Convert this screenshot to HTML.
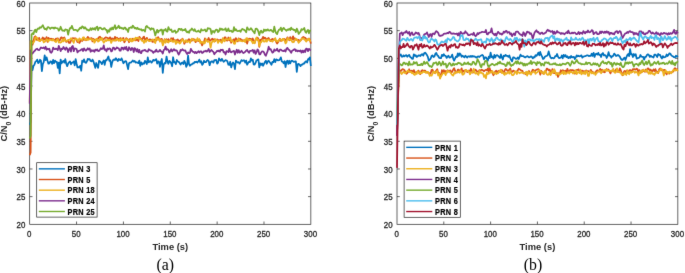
<!DOCTYPE html>
<html><head><meta charset="utf-8"><style>
html,body{margin:0;padding:0;background:#fff;}
body{width:685px;height:273px;overflow:hidden;}
svg{display:block;}
#wrap{width:685px;height:273px;}
.tk{font-family:"Liberation Sans",sans-serif;font-size:8.6px;fill:#262626;stroke:#262626;stroke-width:0.3px;}
.lb{font-family:"Liberation Sans",sans-serif;font-size:9.8px;font-weight:bold;fill:#262626;}
.lg{font-family:"Liberation Sans",sans-serif;font-size:8.2px;font-weight:bold;fill:#000;stroke:#000;stroke-width:0.2px;letter-spacing:0.32px;}
.cap{font-family:"Liberation Serif",serif;font-size:16.3px;fill:#000;}
</style></head><body><div id="wrap">
<svg width="685" height="273" viewBox="0 0 685 273">
<defs><filter id="bl" x="0" y="0" width="685" height="273" filterUnits="userSpaceOnUse" color-interpolation-filters="sRGB"><feConvolveMatrix order="3" kernelMatrix="0.00524 0.06192 0.00524 0.06192 0.73137 0.06192 0.00524 0.06192 0.00524" edgeMode="duplicate" preserveAlpha="true"/></filter></defs>
<g filter="url(#bl)">
<rect width="685" height="273" fill="#fff"/>
<rect x="29.7" y="3.0" width="281.15000000000003" height="221.3" fill="none" stroke="#262626" stroke-width="0.7"/>
<text transform="translate(29.30,237.2) scale(0.92,1)" text-anchor="middle" class="tk">0</text>
<line x1="76.56" y1="224.3" x2="76.56" y2="221.5" stroke="#262626" stroke-width="0.7"/>
<line x1="76.56" y1="3.0" x2="76.56" y2="5.8" stroke="#262626" stroke-width="0.7"/>
<text transform="translate(76.16,237.2) scale(0.92,1)" text-anchor="middle" class="tk">50</text>
<line x1="123.42" y1="224.3" x2="123.42" y2="221.5" stroke="#262626" stroke-width="0.7"/>
<line x1="123.42" y1="3.0" x2="123.42" y2="5.8" stroke="#262626" stroke-width="0.7"/>
<text transform="translate(123.02,237.2) scale(0.92,1)" text-anchor="middle" class="tk">100</text>
<line x1="170.28" y1="224.3" x2="170.28" y2="221.5" stroke="#262626" stroke-width="0.7"/>
<line x1="170.28" y1="3.0" x2="170.28" y2="5.8" stroke="#262626" stroke-width="0.7"/>
<text transform="translate(169.88,237.2) scale(0.92,1)" text-anchor="middle" class="tk">150</text>
<line x1="217.13" y1="224.3" x2="217.13" y2="221.5" stroke="#262626" stroke-width="0.7"/>
<line x1="217.13" y1="3.0" x2="217.13" y2="5.8" stroke="#262626" stroke-width="0.7"/>
<text transform="translate(216.73,237.2) scale(0.92,1)" text-anchor="middle" class="tk">200</text>
<line x1="263.99" y1="224.3" x2="263.99" y2="221.5" stroke="#262626" stroke-width="0.7"/>
<line x1="263.99" y1="3.0" x2="263.99" y2="5.8" stroke="#262626" stroke-width="0.7"/>
<text transform="translate(263.59,237.2) scale(0.92,1)" text-anchor="middle" class="tk">250</text>
<text transform="translate(310.45,237.2) scale(0.92,1)" text-anchor="middle" class="tk">300</text>
<text transform="translate(25.30,227.90) scale(0.92,1)" text-anchor="end" class="tk">20</text>
<line x1="29.7" y1="196.64" x2="32.5" y2="196.64" stroke="#262626" stroke-width="0.7"/>
<line x1="310.85" y1="196.64" x2="308.05" y2="196.64" stroke="#262626" stroke-width="0.7"/>
<text transform="translate(25.30,200.24) scale(0.92,1)" text-anchor="end" class="tk">25</text>
<line x1="29.7" y1="168.97" x2="32.5" y2="168.97" stroke="#262626" stroke-width="0.7"/>
<line x1="310.85" y1="168.97" x2="308.05" y2="168.97" stroke="#262626" stroke-width="0.7"/>
<text transform="translate(25.30,172.57) scale(0.92,1)" text-anchor="end" class="tk">30</text>
<line x1="29.7" y1="141.31" x2="32.5" y2="141.31" stroke="#262626" stroke-width="0.7"/>
<line x1="310.85" y1="141.31" x2="308.05" y2="141.31" stroke="#262626" stroke-width="0.7"/>
<text transform="translate(25.30,144.91) scale(0.92,1)" text-anchor="end" class="tk">35</text>
<line x1="29.7" y1="113.65" x2="32.5" y2="113.65" stroke="#262626" stroke-width="0.7"/>
<line x1="310.85" y1="113.65" x2="308.05" y2="113.65" stroke="#262626" stroke-width="0.7"/>
<text transform="translate(25.30,117.25) scale(0.92,1)" text-anchor="end" class="tk">40</text>
<line x1="29.7" y1="85.99" x2="32.5" y2="85.99" stroke="#262626" stroke-width="0.7"/>
<line x1="310.85" y1="85.99" x2="308.05" y2="85.99" stroke="#262626" stroke-width="0.7"/>
<text transform="translate(25.30,89.59) scale(0.92,1)" text-anchor="end" class="tk">45</text>
<line x1="29.7" y1="58.33" x2="32.5" y2="58.33" stroke="#262626" stroke-width="0.7"/>
<line x1="310.85" y1="58.33" x2="308.05" y2="58.33" stroke="#262626" stroke-width="0.7"/>
<text transform="translate(25.30,61.93) scale(0.92,1)" text-anchor="end" class="tk">50</text>
<line x1="29.7" y1="30.66" x2="32.5" y2="30.66" stroke="#262626" stroke-width="0.7"/>
<line x1="310.85" y1="30.66" x2="308.05" y2="30.66" stroke="#262626" stroke-width="0.7"/>
<text transform="translate(25.30,34.26) scale(0.92,1)" text-anchor="end" class="tk">55</text>
<text transform="translate(25.30,6.60) scale(0.92,1)" text-anchor="end" class="tk">60</text>
<polyline points="29.70,124.72 30.64,121.95 31.57,65.47 32.51,70.11 33.45,65.94 34.39,64.81 35.32,61.96 36.26,61.13 37.20,59.58 38.13,63.12 39.07,62.24 40.01,59.76 40.95,60.72 41.88,71.12 42.82,64.15 43.76,61.96 44.69,55.42 45.63,60.05 46.57,57.32 47.51,60.69 48.44,63.69 49.38,63.36 50.32,61.29 51.25,61.50 52.19,63.83 53.13,59.93 54.07,63.17 55.00,60.66 55.94,61.76 56.88,61.83 57.82,67.98 58.75,62.59 59.69,73.40 60.63,59.52 61.56,63.29 62.50,61.70 63.44,60.91 64.38,62.67 65.31,59.07 66.25,63.73 67.19,66.08 68.12,63.59 69.06,62.31 70.00,61.32 70.94,64.30 71.87,62.57 72.81,62.53 73.75,61.37 74.68,65.32 75.62,59.02 76.56,63.52 77.50,67.48 78.43,67.21 79.37,67.50 80.31,65.74 81.24,70.74 82.18,60.67 83.12,61.94 84.06,59.40 84.99,62.21 85.93,62.92 86.87,61.50 87.80,58.92 88.74,59.55 89.68,59.06 90.62,61.02 91.55,61.37 92.49,59.60 93.43,61.50 94.36,64.57 95.30,67.81 96.24,62.99 97.18,65.71 98.11,67.78 99.05,60.80 99.99,61.42 100.92,62.39 101.86,64.14 102.80,62.01 103.74,60.42 104.67,64.86 105.61,60.10 106.55,60.33 107.48,58.38 108.42,56.51 109.36,60.87 110.30,60.25 111.23,66.98 112.17,62.34 113.11,60.03 114.05,59.38 114.98,60.03 115.92,58.29 116.86,59.72 117.79,61.09 118.73,58.93 119.67,59.80 120.61,60.08 121.54,58.31 122.48,60.64 123.42,63.28 124.35,61.96 125.29,61.18 126.23,61.36 127.17,65.18 128.10,69.10 129.04,63.13 129.98,62.56 130.91,62.62 131.85,61.72 132.79,60.43 133.73,61.59 134.66,60.99 135.60,62.70 136.54,62.25 137.47,62.55 138.41,63.18 139.35,60.67 140.29,65.88 141.22,62.40 142.16,64.47 143.10,63.19 144.03,63.78 144.97,60.82 145.91,62.32 146.85,64.00 147.78,57.43 148.72,62.33 149.66,61.39 150.59,61.11 151.53,62.68 152.47,61.47 153.41,59.80 154.34,60.57 155.28,59.98 156.22,59.09 157.15,63.54 158.09,61.29 159.03,61.85 159.97,66.74 160.90,61.69 161.84,59.00 162.78,72.94 163.71,64.51 164.65,62.95 165.59,63.40 166.53,56.53 167.46,61.64 168.40,63.80 169.34,60.82 170.28,61.70 171.21,63.29 172.15,66.27 173.09,57.25 174.02,62.45 174.96,62.18 175.90,64.14 176.84,60.01 177.77,61.43 178.71,61.89 179.65,63.04 180.58,64.58 181.52,63.10 182.46,62.47 183.40,63.97 184.33,60.85 185.27,62.86 186.21,66.83 187.14,64.87 188.08,55.58 189.02,64.11 189.96,65.81 190.89,64.67 191.83,64.41 192.77,63.27 193.70,63.50 194.64,61.88 195.58,62.28 196.52,61.63 197.45,62.53 198.39,61.23 199.33,59.60 200.26,62.53 201.20,61.28 202.14,64.82 203.08,63.69 204.01,60.76 204.95,62.24 205.89,62.14 206.82,60.75 207.76,60.01 208.70,61.04 209.64,65.19 210.57,62.25 211.51,61.46 212.45,61.28 213.38,62.68 214.32,60.14 215.26,60.10 216.20,59.95 217.13,63.66 218.07,62.58 219.01,58.37 219.94,59.86 220.88,60.87 221.82,58.82 222.76,60.41 223.69,61.76 224.63,60.94 225.57,60.14 226.51,60.47 227.44,61.47 228.38,64.74 229.32,64.88 230.25,61.77 231.19,67.40 232.13,64.15 233.07,62.41 234.00,64.05 234.94,69.04 235.88,60.56 236.81,61.59 237.75,62.53 238.69,62.13 239.63,63.67 240.56,61.92 241.50,60.05 242.44,60.96 243.37,60.44 244.31,60.34 245.25,62.57 246.19,60.56 247.12,64.69 248.06,63.12 249.00,61.70 249.93,62.15 250.87,58.43 251.81,60.52 252.75,59.65 253.68,64.48 254.62,64.62 255.56,62.93 256.49,60.31 257.43,59.94 258.37,59.37 259.31,67.29 260.24,63.30 261.18,64.94 262.12,63.43 263.05,65.80 263.99,63.90 264.93,62.01 265.87,60.62 266.80,63.77 267.74,61.49 268.68,60.70 269.61,62.07 270.55,63.33 271.49,64.80 272.43,61.78 273.36,62.22 274.30,59.19 275.24,62.09 276.17,59.43 277.11,59.79 278.05,60.43 278.99,60.23 279.92,59.45 280.86,57.38 281.80,61.52 282.74,61.77 283.67,63.25 284.61,61.18 285.55,67.00 286.48,61.58 287.42,60.75 288.36,63.89 289.30,60.72 290.23,63.35 291.17,61.04 292.11,60.63 293.04,61.33 293.98,61.97 294.92,61.37 295.86,61.36 296.79,71.80 297.73,64.29 298.67,63.83 299.60,64.82 300.54,66.18 301.48,64.54 302.42,64.64 303.35,63.45 304.29,63.65 305.23,61.79 306.16,61.26 307.10,62.45 308.04,59.15 308.98,59.29 309.91,57.29 310.85,65.97" fill="none" stroke="#0072BD" stroke-width="1.75" stroke-linejoin="round"/>
<polyline points="29.70,155.14 30.64,152.38 31.57,40.62 32.51,44.66 33.45,41.44 34.39,37.17 35.32,36.29 36.26,39.66 37.20,39.93 38.13,39.53 39.07,37.80 40.01,40.60 40.95,39.74 41.88,39.20 42.82,37.45 43.76,39.36 44.69,38.39 45.63,40.61 46.57,37.06 47.51,41.88 48.44,37.89 49.38,38.94 50.32,38.92 51.25,38.69 52.19,39.07 53.13,39.18 54.07,39.49 55.00,40.62 55.94,38.61 56.88,38.92 57.82,38.30 58.75,40.74 59.69,40.69 60.63,38.00 61.56,37.31 62.50,38.78 63.44,37.98 64.38,37.53 65.31,40.00 66.25,41.87 67.19,41.54 68.12,40.58 69.06,42.85 70.00,42.91 70.94,40.78 71.87,39.35 72.81,38.16 73.75,38.33 74.68,38.32 75.62,38.48 76.56,40.19 77.50,42.07 78.43,40.31 79.37,42.97 80.31,41.28 81.24,40.00 82.18,40.95 83.12,37.93 84.06,39.74 84.99,38.97 85.93,40.37 86.87,38.48 87.80,36.81 88.74,38.89 89.68,38.32 90.62,38.70 91.55,38.05 92.49,41.44 93.43,38.80 94.36,40.02 95.30,39.78 96.24,40.23 97.18,38.58 98.11,38.85 99.05,37.33 99.99,36.66 100.92,38.30 101.86,38.45 102.80,39.51 103.74,38.98 104.67,38.21 105.61,37.33 106.55,37.53 107.48,38.02 108.42,39.51 109.36,37.85 110.30,37.39 111.23,40.84 112.17,38.36 113.11,39.03 114.05,39.29 114.98,36.81 115.92,40.60 116.86,37.64 117.79,38.46 118.73,39.24 119.67,38.63 120.61,38.15 121.54,39.99 122.48,38.44 123.42,37.96 124.35,42.30 125.29,40.87 126.23,38.08 127.17,38.83 128.10,39.65 129.04,42.28 129.98,38.79 130.91,40.53 131.85,40.78 132.79,38.70 133.73,40.23 134.66,39.82 135.60,40.46 136.54,39.80 137.47,39.55 138.41,41.13 139.35,36.81 140.29,38.25 141.22,38.93 142.16,39.79 143.10,37.50 144.03,36.66 144.97,40.47 145.91,39.24 146.85,37.82 147.78,39.97 148.72,40.48 149.66,39.35 150.59,39.54 151.53,39.90 152.47,41.95 153.41,41.72 154.34,39.58 155.28,39.87 156.22,40.55 157.15,39.14 158.09,37.12 159.03,38.70 159.97,39.11 160.90,39.25 161.84,38.87 162.78,43.86 163.71,42.03 164.65,39.25 165.59,40.51 166.53,39.19 167.46,41.88 168.40,39.18 169.34,40.92 170.28,41.06 171.21,38.25 172.15,40.18 173.09,38.14 174.02,41.35 174.96,40.15 175.90,41.32 176.84,40.01 177.77,39.46 178.71,41.17 179.65,41.18 180.58,40.12 181.52,39.81 182.46,38.70 183.40,40.41 184.33,43.76 185.27,41.88 186.21,41.45 187.14,41.28 188.08,40.17 189.02,39.06 189.96,40.79 190.89,40.14 191.83,40.82 192.77,39.33 193.70,39.22 194.64,39.65 195.58,42.15 196.52,41.18 197.45,39.86 198.39,40.96 199.33,39.33 200.26,41.28 201.20,43.00 202.14,45.39 203.08,43.22 204.01,41.65 204.95,38.44 205.89,40.09 206.82,39.96 207.76,39.82 208.70,37.99 209.64,40.94 210.57,40.55 211.51,39.22 212.45,38.73 213.38,40.50 214.32,39.15 215.26,41.01 216.20,39.97 217.13,39.38 218.07,40.60 219.01,40.11 219.94,40.46 220.88,39.65 221.82,41.98 222.76,40.56 223.69,39.69 224.63,37.40 225.57,37.45 226.51,40.42 227.44,40.55 228.38,37.52 229.32,40.32 230.25,39.48 231.19,42.73 232.13,40.46 233.07,40.40 234.00,39.19 234.94,42.68 235.88,38.09 236.81,39.99 237.75,41.44 238.69,38.32 239.63,40.00 240.56,38.89 241.50,40.21 242.44,40.16 243.37,40.68 244.31,40.48 245.25,41.67 246.19,39.84 247.12,43.58 248.06,40.16 249.00,38.72 249.93,38.94 250.87,38.88 251.81,40.58 252.75,38.47 253.68,41.31 254.62,43.10 255.56,40.12 256.49,38.69 257.43,37.69 258.37,38.75 259.31,46.89 260.24,39.94 261.18,39.79 262.12,39.02 263.05,36.87 263.99,38.82 264.93,37.62 265.87,38.69 266.80,39.89 267.74,38.55 268.68,38.03 269.61,39.85 270.55,41.14 271.49,39.76 272.43,38.92 273.36,39.74 274.30,39.16 275.24,39.55 276.17,41.88 277.11,43.55 278.05,42.22 278.99,40.58 279.92,38.76 280.86,40.90 281.80,40.49 282.74,39.42 283.67,39.66 284.61,39.00 285.55,40.74 286.48,39.55 287.42,37.29 288.36,38.85 289.30,40.27 290.23,37.03 291.17,38.80 292.11,39.44 293.04,36.32 293.98,39.90 294.92,38.19 295.86,39.85 296.79,39.97 297.73,40.18 298.67,39.90 299.60,41.05 300.54,40.35 301.48,39.47 302.42,37.48 303.35,36.96 304.29,37.65 305.23,37.90 306.16,39.07 307.10,40.45 308.04,38.97 308.98,38.70 309.91,39.66 310.85,43.67" fill="none" stroke="#D95319" stroke-width="1.75" stroke-linejoin="round"/>
<polyline points="29.70,102.59 30.64,41.02 31.57,42.87 32.51,43.16 33.45,42.43 34.39,40.93 35.32,37.56 36.26,37.16 37.20,37.96 38.13,40.34 39.07,40.65 40.01,41.20 40.95,39.66 41.88,39.91 42.82,40.00 43.76,42.32 44.69,41.75 45.63,40.91 46.57,39.27 47.51,40.04 48.44,41.48 49.38,39.55 50.32,39.78 51.25,40.19 52.19,40.49 53.13,39.13 54.07,40.56 55.00,41.39 55.94,42.12 56.88,39.69 57.82,39.12 58.75,42.50 59.69,42.30 60.63,42.57 61.56,42.00 62.50,39.33 63.44,41.35 64.38,38.68 65.31,40.83 66.25,40.98 67.19,40.86 68.12,39.93 69.06,39.89 70.00,39.53 70.94,38.18 71.87,38.99 72.81,41.14 73.75,42.87 74.68,39.29 75.62,39.10 76.56,38.71 77.50,40.42 78.43,41.31 79.37,38.36 80.31,39.39 81.24,39.27 82.18,40.03 83.12,37.36 84.06,37.48 84.99,39.87 85.93,39.77 86.87,38.62 87.80,40.17 88.74,39.19 89.68,39.48 90.62,38.70 91.55,39.72 92.49,40.20 93.43,39.56 94.36,42.66 95.30,41.17 96.24,38.79 97.18,39.16 98.11,41.61 99.05,40.99 99.99,38.48 100.92,39.98 101.86,38.11 102.80,40.64 103.74,42.61 104.67,41.43 105.61,39.99 106.55,40.97 107.48,39.53 108.42,40.41 109.36,39.89 110.30,40.25 111.23,42.94 112.17,40.33 113.11,40.30 114.05,40.78 114.98,40.03 115.92,40.41 116.86,38.74 117.79,39.95 118.73,40.82 119.67,39.32 120.61,41.06 121.54,38.58 122.48,40.30 123.42,39.90 124.35,39.96 125.29,40.38 126.23,39.04 127.17,39.30 128.10,40.03 129.04,40.57 129.98,41.20 130.91,38.59 131.85,41.48 132.79,40.91 133.73,38.54 134.66,40.28 135.60,37.64 136.54,38.35 137.47,37.76 138.41,38.51 139.35,38.37 140.29,38.74 141.22,39.75 142.16,41.07 143.10,40.63 144.03,42.89 144.97,40.53 145.91,41.79 146.85,39.59 147.78,40.21 148.72,40.75 149.66,41.13 150.59,40.80 151.53,40.49 152.47,39.49 153.41,39.60 154.34,41.74 155.28,43.05 156.22,37.52 157.15,38.71 158.09,39.92 159.03,38.66 159.97,41.62 160.90,40.23 161.84,40.07 162.78,45.47 163.71,42.78 164.65,39.40 165.59,42.77 166.53,40.04 167.46,40.88 168.40,42.56 169.34,41.27 170.28,40.60 171.21,39.60 172.15,41.53 173.09,41.88 174.02,40.67 174.96,40.65 175.90,43.89 176.84,41.21 177.77,42.48 178.71,42.06 179.65,43.54 180.58,42.72 181.52,40.53 182.46,39.18 183.40,40.99 184.33,42.18 185.27,40.62 186.21,40.14 187.14,42.22 188.08,41.31 189.02,41.28 189.96,42.83 190.89,40.47 191.83,38.63 192.77,39.55 193.70,40.25 194.64,40.93 195.58,39.73 196.52,40.81 197.45,38.17 198.39,40.54 199.33,39.31 200.26,42.97 201.20,41.63 202.14,42.90 203.08,41.74 204.01,43.60 204.95,42.92 205.89,39.17 206.82,40.75 207.76,41.84 208.70,41.50 209.64,41.58 210.57,47.73 211.51,43.07 212.45,41.26 213.38,40.90 214.32,41.92 215.26,39.17 216.20,39.83 217.13,40.52 218.07,42.87 219.01,40.89 219.94,41.13 220.88,41.84 221.82,42.91 222.76,38.17 223.69,40.49 224.63,41.32 225.57,39.08 226.51,39.29 227.44,39.35 228.38,39.81 229.32,39.03 230.25,37.47 231.19,41.28 232.13,40.97 233.07,41.20 234.00,43.60 234.94,43.81 235.88,41.04 236.81,40.79 237.75,39.97 238.69,39.01 239.63,40.80 240.56,40.59 241.50,41.04 242.44,41.28 243.37,41.24 244.31,39.76 245.25,41.99 246.19,38.42 247.12,38.21 248.06,40.04 249.00,40.33 249.93,39.69 250.87,39.97 251.81,41.18 252.75,43.26 253.68,41.76 254.62,43.30 255.56,39.48 256.49,37.53 257.43,39.99 258.37,39.67 259.31,45.96 260.24,42.42 261.18,42.46 262.12,40.42 263.05,40.18 263.99,41.68 264.93,41.58 265.87,39.76 266.80,41.71 267.74,39.61 268.68,39.63 269.61,40.23 270.55,40.94 271.49,40.93 272.43,41.58 273.36,40.43 274.30,40.25 275.24,38.11 276.17,41.32 277.11,40.91 278.05,41.60 278.99,39.77 279.92,39.35 280.86,39.52 281.80,40.88 282.74,38.95 283.67,38.79 284.61,40.62 285.55,43.44 286.48,42.23 287.42,38.13 288.36,38.75 289.30,39.30 290.23,40.15 291.17,39.37 292.11,41.66 293.04,42.31 293.98,41.87 294.92,39.61 295.86,38.81 296.79,39.01 297.73,40.97 298.67,42.80 299.60,41.48 300.54,40.70 301.48,38.91 302.42,38.70 303.35,38.37 304.29,39.59 305.23,39.99 306.16,41.70 307.10,39.54 308.04,40.09 308.98,38.58 309.91,40.98 310.85,40.76" fill="none" stroke="#EDB120" stroke-width="1.75" stroke-linejoin="round"/>
<polyline points="29.70,103.69 30.64,50.37 31.57,53.22 32.51,53.66 33.45,52.09 34.39,51.20 35.32,50.07 36.26,49.02 37.20,48.74 38.13,49.97 39.07,50.10 40.01,49.00 40.95,47.47 41.88,47.90 42.82,48.19 43.76,47.43 44.69,48.85 45.63,46.77 46.57,49.73 47.51,48.65 48.44,49.44 49.38,48.78 50.32,52.14 51.25,52.84 52.19,51.53 53.13,47.60 54.07,48.96 55.00,49.20 55.94,48.57 56.88,48.95 57.82,50.11 58.75,45.95 59.69,48.25 60.63,51.09 61.56,48.70 62.50,49.19 63.44,47.03 64.38,48.42 65.31,49.76 66.25,47.52 67.19,48.55 68.12,52.09 69.06,49.18 70.00,47.97 70.94,51.64 71.87,46.60 72.81,45.94 73.75,51.23 74.68,48.45 75.62,48.59 76.56,48.95 77.50,52.40 78.43,51.07 79.37,50.74 80.31,50.41 81.24,49.52 82.18,49.03 83.12,51.01 84.06,48.37 84.99,49.78 85.93,50.70 86.87,49.71 87.80,48.16 88.74,49.61 89.68,48.45 90.62,51.74 91.55,50.18 92.49,50.96 93.43,50.34 94.36,51.87 95.30,49.62 96.24,50.43 97.18,49.48 98.11,51.10 99.05,50.97 99.99,49.63 100.92,48.19 101.86,49.04 102.80,48.67 103.74,45.45 104.67,49.89 105.61,49.31 106.55,51.35 107.48,48.49 108.42,49.33 109.36,48.44 110.30,48.80 111.23,51.45 112.17,50.77 113.11,47.56 114.05,47.82 114.98,49.63 115.92,48.68 116.86,47.37 117.79,48.21 118.73,48.28 119.67,50.55 120.61,50.67 121.54,47.67 122.48,47.93 123.42,49.50 124.35,47.38 125.29,49.09 126.23,46.79 127.17,50.12 128.10,50.66 129.04,47.23 129.98,48.64 130.91,50.26 131.85,47.99 132.79,48.41 133.73,52.01 134.66,48.13 135.60,48.96 136.54,51.45 137.47,49.14 138.41,52.36 139.35,49.94 140.29,52.75 141.22,53.16 142.16,50.66 143.10,50.64 144.03,50.41 144.97,49.86 145.91,50.94 146.85,51.40 147.78,51.56 148.72,49.21 149.66,49.86 150.59,50.55 151.53,50.63 152.47,51.63 153.41,52.86 154.34,51.41 155.28,51.65 156.22,49.56 157.15,51.66 158.09,51.75 159.03,51.17 159.97,49.86 160.90,51.24 161.84,51.76 162.78,53.55 163.71,49.94 164.65,49.44 165.59,46.55 166.53,49.73 167.46,49.16 168.40,49.95 169.34,52.54 170.28,50.85 171.21,49.25 172.15,51.39 173.09,50.18 174.02,49.24 174.96,50.58 175.90,50.23 176.84,50.57 177.77,52.76 178.71,54.62 179.65,52.89 180.58,49.93 181.52,50.61 182.46,49.28 183.40,50.15 184.33,50.67 185.27,50.29 186.21,52.61 187.14,54.06 188.08,52.33 189.02,53.23 189.96,52.80 190.89,48.81 191.83,50.62 192.77,51.76 193.70,51.86 194.64,53.04 195.58,51.90 196.52,53.09 197.45,52.26 198.39,51.26 199.33,52.56 200.26,51.41 201.20,51.28 202.14,52.97 203.08,52.53 204.01,51.19 204.95,51.47 205.89,50.70 206.82,51.63 207.76,50.67 208.70,49.00 209.64,52.03 210.57,50.72 211.51,50.00 212.45,51.15 213.38,51.94 214.32,54.25 215.26,52.86 216.20,52.05 217.13,50.74 218.07,51.32 219.01,50.51 219.94,51.71 220.88,49.72 221.82,50.22 222.76,49.66 223.69,52.45 224.63,52.08 225.57,54.53 226.51,51.15 227.44,51.31 228.38,52.10 229.32,48.59 230.25,51.68 231.19,52.31 232.13,51.54 233.07,51.40 234.00,50.88 234.94,54.55 235.88,51.88 236.81,49.72 237.75,52.75 238.69,50.15 239.63,52.67 240.56,52.08 241.50,50.62 242.44,52.03 243.37,53.04 244.31,52.51 245.25,51.83 246.19,50.61 247.12,49.84 248.06,51.65 249.00,52.81 249.93,50.90 250.87,50.92 251.81,50.68 252.75,49.90 253.68,52.63 254.62,50.33 255.56,53.96 256.49,52.42 257.43,49.46 258.37,50.42 259.31,54.32 260.24,54.29 261.18,52.45 262.12,51.29 263.05,51.49 263.99,52.43 264.93,54.60 265.87,55.80 266.80,53.23 267.74,50.89 268.68,46.73 269.61,49.35 270.55,49.03 271.49,50.83 272.43,52.70 273.36,52.09 274.30,49.44 275.24,50.68 276.17,50.28 277.11,48.67 278.05,50.99 278.99,51.66 279.92,49.54 280.86,49.53 281.80,50.39 282.74,50.98 283.67,51.04 284.61,50.15 285.55,51.47 286.48,48.75 287.42,47.85 288.36,49.54 289.30,50.09 290.23,51.26 291.17,52.79 292.11,50.73 293.04,50.31 293.98,49.55 294.92,49.19 295.86,50.97 296.79,50.27 297.73,51.42 298.67,50.62 299.60,51.25 300.54,50.32 301.48,52.59 302.42,50.59 303.35,52.31 304.29,50.30 305.23,51.96 306.16,48.57 307.10,48.75 308.04,51.22 308.98,48.92 309.91,49.88 310.85,50.48" fill="none" stroke="#7E2F8E" stroke-width="1.75" stroke-linejoin="round"/>
<polyline points="29.70,138.55 30.64,135.78 31.57,34.55 32.51,33.22 33.45,34.16 34.39,30.77 35.32,29.68 36.26,32.21 37.20,29.26 38.13,28.33 39.07,28.89 40.01,27.18 40.95,27.74 41.88,26.53 42.82,25.13 43.76,27.52 44.69,29.16 45.63,28.74 46.57,29.76 47.51,27.39 48.44,27.17 49.38,27.90 50.32,28.79 51.25,27.71 52.19,27.92 53.13,27.57 54.07,28.66 55.00,27.44 55.94,28.08 56.88,28.26 57.82,28.47 58.75,30.71 59.69,29.44 60.63,26.73 61.56,29.24 62.50,30.70 63.44,30.50 64.38,31.04 65.31,29.43 66.25,29.64 67.19,29.79 68.12,34.71 69.06,30.66 70.00,28.06 70.94,28.28 71.87,25.85 72.81,28.39 73.75,30.13 74.68,29.99 75.62,29.79 76.56,30.19 77.50,31.26 78.43,29.88 79.37,29.00 80.31,27.59 81.24,28.40 82.18,26.33 83.12,27.00 84.06,28.59 84.99,27.17 85.93,28.53 86.87,29.85 87.80,29.67 88.74,30.68 89.68,30.05 90.62,28.17 91.55,29.93 92.49,28.15 93.43,29.31 94.36,28.25 95.30,29.75 96.24,27.45 97.18,26.64 98.11,30.26 99.05,27.97 99.99,27.68 100.92,28.02 101.86,29.10 102.80,29.47 103.74,28.25 104.67,28.13 105.61,29.67 106.55,29.87 107.48,32.80 108.42,30.26 109.36,31.46 110.30,28.34 111.23,29.60 112.17,27.49 113.11,29.30 114.05,27.24 114.98,25.25 115.92,29.00 116.86,28.03 117.79,27.32 118.73,25.79 119.67,28.08 120.61,27.41 121.54,28.26 122.48,28.14 123.42,29.19 124.35,27.65 125.29,27.65 126.23,29.66 127.17,29.31 128.10,31.93 129.04,27.90 129.98,27.83 130.91,27.12 131.85,27.95 132.79,25.69 133.73,26.78 134.66,28.38 135.60,27.89 136.54,28.85 137.47,27.80 138.41,29.21 139.35,29.04 140.29,29.71 141.22,29.22 142.16,30.70 143.10,29.92 144.03,30.27 144.97,31.46 145.91,26.62 146.85,25.98 147.78,27.39 148.72,27.54 149.66,28.50 150.59,29.74 151.53,28.26 152.47,28.96 153.41,28.57 154.34,31.45 155.28,35.44 156.22,32.22 157.15,29.90 158.09,32.51 159.03,30.71 159.97,30.57 160.90,29.62 161.84,29.58 162.78,34.59 163.71,30.03 164.65,30.11 165.59,29.01 166.53,31.31 167.46,31.53 168.40,27.21 169.34,29.31 170.28,29.99 171.21,29.43 172.15,31.93 173.09,31.81 174.02,31.02 174.96,30.45 175.90,32.82 176.84,31.93 177.77,31.50 178.71,28.76 179.65,28.78 180.58,29.92 181.52,28.96 182.46,30.63 183.40,29.99 184.33,30.18 185.27,28.90 186.21,31.37 187.14,32.28 188.08,31.44 189.02,32.89 189.96,30.24 190.89,29.91 191.83,28.45 192.77,29.74 193.70,30.77 194.64,29.16 195.58,31.27 196.52,31.64 197.45,31.33 198.39,30.55 199.33,31.73 200.26,32.23 201.20,29.20 202.14,30.31 203.08,30.36 204.01,29.95 204.95,29.44 205.89,31.44 206.82,31.10 207.76,28.07 208.70,28.71 209.64,28.48 210.57,29.14 211.51,33.96 212.45,31.21 213.38,31.04 214.32,32.64 215.26,30.58 216.20,29.55 217.13,29.77 218.07,32.06 219.01,31.10 219.94,28.42 220.88,29.78 221.82,28.76 222.76,29.98 223.69,29.57 224.63,29.70 225.57,28.34 226.51,31.12 227.44,30.69 228.38,28.49 229.32,31.19 230.25,31.01 231.19,30.61 232.13,32.03 233.07,31.63 234.00,27.19 234.94,30.53 235.88,29.13 236.81,30.78 237.75,31.04 238.69,30.97 239.63,30.67 240.56,31.78 241.50,29.72 242.44,28.91 243.37,29.61 244.31,29.88 245.25,30.78 246.19,32.31 247.12,27.32 248.06,28.91 249.00,29.81 249.93,29.47 250.87,28.14 251.81,29.21 252.75,30.86 253.68,31.77 254.62,33.38 255.56,28.92 256.49,28.59 257.43,29.41 258.37,31.62 259.31,35.09 260.24,31.85 261.18,30.58 262.12,32.75 263.05,32.46 263.99,29.50 264.93,30.94 265.87,29.69 266.80,30.59 267.74,29.32 268.68,30.50 269.61,30.73 270.55,29.94 271.49,30.15 272.43,31.49 273.36,32.12 274.30,26.70 275.24,30.93 276.17,33.23 277.11,34.17 278.05,31.31 278.99,29.59 279.92,29.62 280.86,27.62 281.80,31.08 282.74,28.81 283.67,27.82 284.61,29.17 285.55,29.89 286.48,30.76 287.42,29.48 288.36,29.86 289.30,28.79 290.23,30.10 291.17,27.69 292.11,29.31 293.04,29.26 293.98,30.13 294.92,29.99 295.86,32.06 296.79,28.65 297.73,30.70 298.67,33.98 299.60,32.57 300.54,31.64 301.48,29.04 302.42,29.78 303.35,29.39 304.29,27.92 305.23,31.64 306.16,32.81 307.10,30.86 308.04,29.90 308.98,33.32 309.91,30.59 310.85,30.43" fill="none" stroke="#77AC30" stroke-width="1.75" stroke-linejoin="round"/>
<text transform="translate(170.28,249.8) scale(0.955,1)" text-anchor="middle" class="lb">Time (s)</text>
<text transform="translate(7.00,113.65) rotate(-90) scale(0.955,1)" text-anchor="middle" class="lb">C/N<tspan dy="4.1" font-size="7.2">0</tspan><tspan dy="-4.1"> (dB-Hz)</tspan></text>
<text transform="translate(165.25,269.6) scale(0.97,1)" text-anchor="middle" class="cap">(a)</text>
<rect x="36.7" y="162.7" width="60.39999999999999" height="54.400000000000006" fill="#fff" stroke="#262626" stroke-width="0.7"/>
<line x1="38.80" y1="168.85" x2="64.90" y2="168.85" stroke="#0072BD" stroke-width="1.4"/>
<text transform="translate(67.60,172.15) scale(0.895,1)" class="lg">PRN 3</text>
<line x1="38.80" y1="179.51" x2="64.90" y2="179.51" stroke="#D95319" stroke-width="1.4"/>
<text transform="translate(67.60,182.81) scale(0.895,1)" class="lg">PRN 5</text>
<line x1="38.80" y1="190.17" x2="64.90" y2="190.17" stroke="#EDB120" stroke-width="1.4"/>
<text transform="translate(67.60,193.47) scale(0.895,1)" class="lg">PRN 18</text>
<line x1="38.80" y1="200.83" x2="64.90" y2="200.83" stroke="#7E2F8E" stroke-width="1.4"/>
<text transform="translate(67.60,204.13) scale(0.895,1)" class="lg">PRN 24</text>
<line x1="38.80" y1="211.49" x2="64.90" y2="211.49" stroke="#77AC30" stroke-width="1.4"/>
<text transform="translate(67.60,214.79) scale(0.895,1)" class="lg">PRN 25</text>
<rect x="397.0" y="3.0" width="280.85" height="221.3" fill="none" stroke="#262626" stroke-width="0.7"/>
<text transform="translate(396.60,237.2) scale(0.92,1)" text-anchor="middle" class="tk">0</text>
<line x1="443.81" y1="224.3" x2="443.81" y2="221.5" stroke="#262626" stroke-width="0.7"/>
<line x1="443.81" y1="3.0" x2="443.81" y2="5.8" stroke="#262626" stroke-width="0.7"/>
<text transform="translate(443.41,237.2) scale(0.92,1)" text-anchor="middle" class="tk">50</text>
<line x1="490.62" y1="224.3" x2="490.62" y2="221.5" stroke="#262626" stroke-width="0.7"/>
<line x1="490.62" y1="3.0" x2="490.62" y2="5.8" stroke="#262626" stroke-width="0.7"/>
<text transform="translate(490.22,237.2) scale(0.92,1)" text-anchor="middle" class="tk">100</text>
<line x1="537.42" y1="224.3" x2="537.42" y2="221.5" stroke="#262626" stroke-width="0.7"/>
<line x1="537.42" y1="3.0" x2="537.42" y2="5.8" stroke="#262626" stroke-width="0.7"/>
<text transform="translate(537.02,237.2) scale(0.92,1)" text-anchor="middle" class="tk">150</text>
<line x1="584.23" y1="224.3" x2="584.23" y2="221.5" stroke="#262626" stroke-width="0.7"/>
<line x1="584.23" y1="3.0" x2="584.23" y2="5.8" stroke="#262626" stroke-width="0.7"/>
<text transform="translate(583.83,237.2) scale(0.92,1)" text-anchor="middle" class="tk">200</text>
<line x1="631.04" y1="224.3" x2="631.04" y2="221.5" stroke="#262626" stroke-width="0.7"/>
<line x1="631.04" y1="3.0" x2="631.04" y2="5.8" stroke="#262626" stroke-width="0.7"/>
<text transform="translate(630.64,237.2) scale(0.92,1)" text-anchor="middle" class="tk">250</text>
<text transform="translate(677.45,237.2) scale(0.92,1)" text-anchor="middle" class="tk">300</text>
<text transform="translate(392.60,227.90) scale(0.92,1)" text-anchor="end" class="tk">20</text>
<line x1="397.0" y1="196.64" x2="399.8" y2="196.64" stroke="#262626" stroke-width="0.7"/>
<line x1="677.85" y1="196.64" x2="675.0500000000001" y2="196.64" stroke="#262626" stroke-width="0.7"/>
<text transform="translate(392.60,200.24) scale(0.92,1)" text-anchor="end" class="tk">25</text>
<line x1="397.0" y1="168.97" x2="399.8" y2="168.97" stroke="#262626" stroke-width="0.7"/>
<line x1="677.85" y1="168.97" x2="675.0500000000001" y2="168.97" stroke="#262626" stroke-width="0.7"/>
<text transform="translate(392.60,172.57) scale(0.92,1)" text-anchor="end" class="tk">30</text>
<line x1="397.0" y1="141.31" x2="399.8" y2="141.31" stroke="#262626" stroke-width="0.7"/>
<line x1="677.85" y1="141.31" x2="675.0500000000001" y2="141.31" stroke="#262626" stroke-width="0.7"/>
<text transform="translate(392.60,144.91) scale(0.92,1)" text-anchor="end" class="tk">35</text>
<line x1="397.0" y1="113.65" x2="399.8" y2="113.65" stroke="#262626" stroke-width="0.7"/>
<line x1="677.85" y1="113.65" x2="675.0500000000001" y2="113.65" stroke="#262626" stroke-width="0.7"/>
<text transform="translate(392.60,117.25) scale(0.92,1)" text-anchor="end" class="tk">40</text>
<line x1="397.0" y1="85.99" x2="399.8" y2="85.99" stroke="#262626" stroke-width="0.7"/>
<line x1="677.85" y1="85.99" x2="675.0500000000001" y2="85.99" stroke="#262626" stroke-width="0.7"/>
<text transform="translate(392.60,89.59) scale(0.92,1)" text-anchor="end" class="tk">45</text>
<line x1="397.0" y1="58.33" x2="399.8" y2="58.33" stroke="#262626" stroke-width="0.7"/>
<line x1="677.85" y1="58.33" x2="675.0500000000001" y2="58.33" stroke="#262626" stroke-width="0.7"/>
<text transform="translate(392.60,61.93) scale(0.92,1)" text-anchor="end" class="tk">50</text>
<line x1="397.0" y1="30.66" x2="399.8" y2="30.66" stroke="#262626" stroke-width="0.7"/>
<line x1="677.85" y1="30.66" x2="675.0500000000001" y2="30.66" stroke="#262626" stroke-width="0.7"/>
<text transform="translate(392.60,34.26) scale(0.92,1)" text-anchor="end" class="tk">55</text>
<text transform="translate(392.60,6.60) scale(0.92,1)" text-anchor="end" class="tk">60</text>
<polyline points="397.00,135.78 397.94,102.59 398.87,57.15 399.81,55.12 400.74,54.35 401.68,56.74 402.62,56.69 403.55,55.30 404.49,56.32 405.43,55.64 406.36,55.13 407.30,56.77 408.23,55.68 409.17,54.85 410.11,56.95 411.04,57.46 411.98,58.73 412.91,58.93 413.85,54.27 414.79,55.92 415.72,55.26 416.66,56.95 417.60,56.25 418.53,55.47 419.47,55.46 420.40,55.97 421.34,54.47 422.28,54.17 423.21,55.65 424.15,53.32 425.08,52.67 426.02,53.70 426.96,55.07 427.89,56.99 428.83,60.72 429.77,59.72 430.70,58.46 431.64,55.74 432.57,55.46 433.51,57.10 434.45,56.54 435.38,53.77 436.32,52.96 437.26,55.25 438.19,56.02 439.13,57.75 440.06,58.07 441.00,58.14 441.94,54.81 442.87,56.06 443.81,54.25 444.74,55.63 445.68,55.82 446.62,57.92 447.55,56.56 448.49,55.77 449.43,57.58 450.36,57.37 451.30,56.69 452.23,54.61 453.17,58.63 454.11,60.65 455.04,58.71 455.98,56.61 456.91,57.07 457.85,53.33 458.79,55.87 459.72,53.44 460.66,54.31 461.60,56.77 462.53,55.70 463.47,56.67 464.40,57.44 465.34,55.76 466.28,56.63 467.21,57.54 468.15,56.42 469.08,56.33 470.02,56.91 470.96,55.93 471.89,56.83 472.83,55.95 473.77,56.62 474.70,56.49 475.64,57.13 476.57,57.67 477.51,56.57 478.45,56.48 479.38,56.99 480.32,56.00 481.25,55.57 482.19,54.83 483.13,55.61 484.06,59.29 485.00,57.45 485.94,57.30 486.87,58.83 487.81,60.72 488.74,56.64 489.68,57.98 490.62,52.61 491.55,57.11 492.49,56.42 493.43,58.61 494.36,54.94 495.30,57.54 496.23,55.26 497.17,55.17 498.11,55.88 499.04,56.89 499.98,58.06 500.91,54.44 501.85,57.35 502.79,59.49 503.72,55.73 504.66,56.14 505.60,54.86 506.53,55.82 507.47,55.85 508.40,56.82 509.34,55.41 510.28,58.19 511.21,60.04 512.15,61.40 513.08,57.44 514.02,57.42 514.96,58.12 515.89,58.83 516.83,58.62 517.77,57.48 518.70,59.09 519.64,56.87 520.57,54.62 521.51,56.14 522.45,56.18 523.38,56.18 524.32,56.99 525.25,57.48 526.19,56.65 527.13,56.15 528.06,56.60 529.00,57.48 529.94,57.16 530.87,56.37 531.81,56.87 532.74,58.38 533.68,57.13 534.62,57.29 535.55,55.21 536.49,55.88 537.42,54.56 538.36,52.55 539.30,55.34 540.23,51.94 541.17,54.96 542.11,56.58 543.04,59.00 543.98,58.45 544.91,56.77 545.85,56.10 546.79,55.97 547.72,54.99 548.66,51.43 549.60,55.14 550.53,57.36 551.47,58.36 552.40,57.83 553.34,58.35 554.28,58.03 555.21,56.01 556.15,56.23 557.08,53.96 558.02,56.83 558.96,58.06 559.89,57.84 560.83,57.75 561.77,55.53 562.70,58.34 563.64,54.82 564.57,56.47 565.51,55.05 566.45,57.16 567.38,56.28 568.32,58.13 569.25,56.92 570.19,57.96 571.13,55.99 572.06,57.43 573.00,57.13 573.94,56.90 574.87,59.07 575.81,57.41 576.74,55.37 577.68,56.36 578.62,55.73 579.55,56.37 580.49,55.96 581.42,55.31 582.36,57.66 583.30,56.74 584.23,56.29 585.17,56.19 586.11,55.72 587.04,55.34 587.98,55.36 588.91,56.13 589.85,55.78 590.79,55.90 591.72,53.70 592.66,55.87 593.60,52.78 594.53,56.96 595.47,54.23 596.40,53.65 597.34,54.60 598.28,52.81 599.21,55.01 600.15,54.74 601.08,57.00 602.02,53.99 602.96,53.05 603.89,55.41 604.83,55.20 605.77,55.52 606.70,58.00 607.64,55.82 608.57,52.21 609.51,55.73 610.45,55.81 611.38,57.60 612.32,56.05 613.25,55.80 614.19,53.57 615.13,54.55 616.06,56.04 617.00,55.62 617.94,54.92 618.87,55.74 619.81,56.64 620.74,58.61 621.68,59.84 622.62,59.98 623.55,58.60 624.49,57.64 625.42,60.05 626.36,57.34 627.30,55.12 628.23,53.93 629.17,56.07 630.11,49.24 631.04,54.44 631.98,54.18 632.91,57.11 633.85,54.01 634.79,55.46 635.72,54.25 636.66,58.60 637.59,58.13 638.53,57.85 639.47,57.53 640.40,54.95 641.34,56.50 642.28,56.91 643.21,56.91 644.15,59.59 645.08,56.98 646.02,56.88 646.96,54.95 647.89,54.29 648.83,54.92 649.76,56.92 650.70,55.68 651.64,56.66 652.57,56.84 653.51,57.57 654.45,54.53 655.38,54.67 656.32,55.47 657.25,57.02 658.19,54.01 659.13,54.81 660.06,54.84 661.00,57.18 661.94,58.48 662.87,56.12 663.81,57.45 664.74,57.22 665.68,56.81 666.62,54.53 667.55,55.96 668.49,54.83 669.42,53.29 670.36,53.80 671.30,55.37 672.23,56.01 673.17,56.54 674.11,57.21 675.04,57.40 675.98,55.75 676.91,56.68 677.85,55.59" fill="none" stroke="#0072BD" stroke-width="1.75" stroke-linejoin="round"/>
<polyline points="397.00,135.78 397.94,102.59 398.87,69.95 399.81,70.28 400.74,71.22 401.68,69.91 402.62,69.02 403.55,69.43 404.49,70.13 405.43,72.34 406.36,73.83 407.30,73.05 408.23,71.66 409.17,69.23 410.11,71.96 411.04,70.80 411.98,70.74 412.91,72.34 413.85,70.12 414.79,72.29 415.72,72.74 416.66,72.01 417.60,71.99 418.53,70.58 419.47,73.49 420.40,74.12 421.34,70.90 422.28,70.24 423.21,71.16 424.15,70.57 425.08,70.53 426.02,71.75 426.96,72.22 427.89,72.90 428.83,72.68 429.77,74.21 430.70,73.38 431.64,69.80 432.57,69.71 433.51,72.09 434.45,72.92 435.38,72.03 436.32,70.54 437.26,69.14 438.19,73.15 439.13,72.96 440.06,75.79 441.00,75.97 441.94,70.23 442.87,72.68 443.81,70.19 444.74,72.31 445.68,71.04 446.62,72.90 447.55,70.28 448.49,71.08 449.43,70.76 450.36,70.40 451.30,72.65 452.23,71.57 453.17,69.53 454.11,68.15 455.04,70.81 455.98,72.45 456.91,72.51 457.85,69.51 458.79,69.53 459.72,71.84 460.66,71.09 461.60,68.30 462.53,72.45 463.47,70.74 464.40,71.16 465.34,70.16 466.28,70.52 467.21,72.00 468.15,71.12 469.08,70.56 470.02,71.20 470.96,68.76 471.89,70.88 472.83,72.68 473.77,72.11 474.70,70.58 475.64,69.70 476.57,70.96 477.51,71.42 478.45,72.10 479.38,70.21 480.32,70.43 481.25,69.94 482.19,69.92 483.13,70.58 484.06,71.22 485.00,70.28 485.94,69.83 486.87,70.29 487.81,68.45 488.74,72.03 489.68,68.16 490.62,71.20 491.55,70.94 492.49,73.24 493.43,75.24 494.36,73.31 495.30,71.44 496.23,70.75 497.17,72.46 498.11,71.23 499.04,70.66 499.98,72.15 500.91,70.37 501.85,69.99 502.79,71.39 503.72,72.61 504.66,70.56 505.60,68.98 506.53,69.59 507.47,70.93 508.40,70.94 509.34,69.61 510.28,68.52 511.21,71.93 512.15,71.94 513.08,70.65 514.02,70.87 514.96,72.35 515.89,72.00 516.83,71.36 517.77,70.39 518.70,68.76 519.64,69.37 520.57,70.07 521.51,70.64 522.45,70.89 523.38,73.30 524.32,73.08 525.25,73.56 526.19,74.39 527.13,73.71 528.06,72.55 529.00,71.02 529.94,73.16 530.87,74.18 531.81,71.62 532.74,69.75 533.68,70.09 534.62,71.84 535.55,70.33 536.49,69.58 537.42,69.59 538.36,69.05 539.30,70.11 540.23,74.70 541.17,70.92 542.11,72.03 543.04,73.61 543.98,73.70 544.91,72.70 545.85,71.02 546.79,68.58 547.72,69.11 548.66,70.42 549.60,69.63 550.53,71.85 551.47,72.98 552.40,69.06 553.34,72.89 554.28,73.07 555.21,73.24 556.15,73.13 557.08,73.47 558.02,76.98 558.96,74.46 559.89,73.32 560.83,70.27 561.77,71.92 562.70,70.25 563.64,70.64 564.57,71.52 565.51,70.61 566.45,72.27 567.38,68.77 568.32,71.51 569.25,71.66 570.19,69.97 571.13,70.79 572.06,69.87 573.00,70.46 573.94,70.31 574.87,73.64 575.81,72.51 576.74,69.83 577.68,69.95 578.62,69.32 579.55,71.52 580.49,71.39 581.42,70.81 582.36,70.58 583.30,71.49 584.23,71.11 585.17,73.68 586.11,70.37 587.04,71.17 587.98,71.13 588.91,71.59 589.85,71.89 590.79,69.81 591.72,71.51 592.66,71.87 593.60,73.00 594.53,72.75 595.47,72.71 596.40,70.96 597.34,70.20 598.28,70.61 599.21,71.53 600.15,68.80 601.08,71.00 602.02,69.79 602.96,71.88 603.89,71.43 604.83,72.28 605.77,70.33 606.70,69.04 607.64,70.34 608.57,69.55 609.51,71.44 610.45,73.36 611.38,70.88 612.32,70.30 613.25,71.43 614.19,70.90 615.13,71.54 616.06,69.40 617.00,69.09 617.94,71.92 618.87,71.71 619.81,68.30 620.74,70.24 621.68,73.14 622.62,75.27 623.55,72.52 624.49,71.04 625.42,72.80 626.36,70.54 627.30,73.03 628.23,71.99 629.17,70.61 630.11,70.12 631.04,70.35 631.98,72.14 632.91,69.11 633.85,69.41 634.79,69.15 635.72,69.67 636.66,68.75 637.59,69.27 638.53,73.19 639.47,70.20 640.40,72.24 641.34,72.32 642.28,70.11 643.21,71.14 644.15,71.16 645.08,71.74 646.02,69.41 646.96,71.77 647.89,68.29 648.83,68.91 649.76,70.27 650.70,69.57 651.64,71.52 652.57,70.93 653.51,69.36 654.45,71.03 655.38,69.10 656.32,71.67 657.25,71.71 658.19,73.02 659.13,69.47 660.06,68.50 661.00,70.16 661.94,70.44 662.87,70.16 663.81,70.10 664.74,69.84 665.68,72.80 666.62,74.39 667.55,72.38 668.49,72.35 669.42,73.47 670.36,72.40 671.30,72.50 672.23,71.86 673.17,71.59 674.11,69.09 675.04,68.15 675.98,70.14 676.91,69.12 677.85,69.26" fill="none" stroke="#D95319" stroke-width="1.75" stroke-linejoin="round"/>
<polyline points="397.00,124.72 397.94,97.05 398.87,73.27 399.81,72.09 400.74,72.64 401.68,74.01 402.62,72.59 403.55,71.79 404.49,72.89 405.43,73.06 406.36,72.08 407.30,71.07 408.23,70.43 409.17,71.83 410.11,71.85 411.04,71.85 411.98,73.29 412.91,72.64 413.85,74.29 414.79,74.90 415.72,73.04 416.66,74.00 417.60,71.04 418.53,72.83 419.47,73.72 420.40,72.63 421.34,73.14 422.28,72.64 423.21,71.44 424.15,72.07 425.08,71.78 426.02,73.07 426.96,71.81 427.89,71.88 428.83,73.11 429.77,75.86 430.70,75.15 431.64,75.58 432.57,73.65 433.51,71.54 434.45,71.74 435.38,73.24 436.32,72.06 437.26,70.92 438.19,75.46 439.13,73.84 440.06,78.60 441.00,76.23 441.94,74.68 442.87,73.23 443.81,73.09 444.74,73.23 445.68,75.02 446.62,71.88 447.55,70.74 448.49,71.91 449.43,71.69 450.36,72.58 451.30,73.80 452.23,74.95 453.17,75.66 454.11,72.92 455.04,73.51 455.98,71.95 456.91,72.04 457.85,72.35 458.79,71.42 459.72,72.72 460.66,70.71 461.60,71.90 462.53,74.71 463.47,74.39 464.40,73.15 465.34,70.11 466.28,69.98 467.21,71.16 468.15,70.73 469.08,72.15 470.02,74.32 470.96,72.31 471.89,72.55 472.83,72.12 473.77,68.73 474.70,72.58 475.64,73.64 476.57,72.79 477.51,74.05 478.45,74.90 479.38,70.60 480.32,72.84 481.25,72.28 482.19,73.50 483.13,73.38 484.06,76.92 485.00,75.04 485.94,78.31 486.87,72.62 487.81,74.01 488.74,73.74 489.68,71.99 490.62,72.69 491.55,71.41 492.49,71.23 493.43,73.29 494.36,73.19 495.30,72.68 496.23,74.15 497.17,73.25 498.11,73.38 499.04,71.50 499.98,70.72 500.91,69.72 501.85,73.08 502.79,72.29 503.72,73.92 504.66,74.91 505.60,72.72 506.53,73.83 507.47,72.96 508.40,71.85 509.34,73.62 510.28,71.06 511.21,73.11 512.15,75.10 513.08,75.25 514.02,74.22 514.96,71.63 515.89,71.31 516.83,74.09 517.77,72.00 518.70,72.27 519.64,73.24 520.57,72.53 521.51,72.44 522.45,72.66 523.38,72.83 524.32,73.40 525.25,73.24 526.19,71.67 527.13,75.53 528.06,71.54 529.00,73.76 529.94,72.43 530.87,74.68 531.81,72.29 532.74,72.31 533.68,71.24 534.62,71.65 535.55,73.79 536.49,72.55 537.42,72.24 538.36,71.14 539.30,69.98 540.23,70.90 541.17,72.07 542.11,72.98 543.04,72.08 543.98,74.05 544.91,70.82 545.85,71.86 546.79,74.18 547.72,74.88 548.66,74.66 549.60,72.06 550.53,75.12 551.47,73.06 552.40,70.87 553.34,72.46 554.28,69.25 555.21,71.40 556.15,74.80 557.08,73.76 558.02,72.78 558.96,74.52 559.89,74.40 560.83,73.59 561.77,73.15 562.70,71.50 563.64,74.15 564.57,71.71 565.51,73.91 566.45,73.72 567.38,72.52 568.32,72.05 569.25,73.54 570.19,71.49 571.13,72.19 572.06,72.05 573.00,73.56 573.94,71.81 574.87,72.83 575.81,70.10 576.74,74.03 577.68,72.14 578.62,72.38 579.55,73.21 580.49,69.63 581.42,74.31 582.36,72.53 583.30,73.68 584.23,71.85 585.17,73.96 586.11,71.38 587.04,71.14 587.98,75.89 588.91,75.80 589.85,71.78 590.79,71.33 591.72,73.34 592.66,72.50 593.60,73.63 594.53,72.53 595.47,74.90 596.40,73.41 597.34,72.02 598.28,71.72 599.21,70.75 600.15,71.06 601.08,73.28 602.02,71.21 602.96,70.93 603.89,70.11 604.83,70.04 605.77,71.03 606.70,69.48 607.64,70.64 608.57,70.81 609.51,70.98 610.45,70.80 611.38,70.95 612.32,71.25 613.25,68.77 614.19,71.73 615.13,72.91 616.06,72.10 617.00,68.44 617.94,71.61 618.87,71.51 619.81,72.53 620.74,72.46 621.68,74.60 622.62,74.14 623.55,75.00 624.49,72.49 625.42,74.02 626.36,74.95 627.30,70.05 628.23,73.02 629.17,74.22 630.11,71.60 631.04,72.82 631.98,72.03 632.91,71.35 633.85,71.29 634.79,72.84 635.72,71.90 636.66,72.10 637.59,73.03 638.53,75.43 639.47,71.67 640.40,73.21 641.34,70.68 642.28,72.12 643.21,69.63 644.15,70.16 645.08,71.08 646.02,71.12 646.96,69.86 647.89,72.20 648.83,73.88 649.76,71.53 650.70,73.77 651.64,72.20 652.57,73.79 653.51,73.60 654.45,74.92 655.38,72.85 656.32,72.25 657.25,72.96 658.19,72.61 659.13,70.55 660.06,70.48 661.00,68.71 661.94,69.34 662.87,71.28 663.81,75.49 664.74,71.52 665.68,70.39 666.62,72.42 667.55,72.18 668.49,73.50 669.42,71.65 670.36,72.34 671.30,73.26 672.23,71.69 673.17,70.17 674.11,69.77 675.04,70.73 675.98,69.74 676.91,69.79 677.85,71.18" fill="none" stroke="#EDB120" stroke-width="1.75" stroke-linejoin="round"/>
<polyline points="397.00,135.78 397.94,97.05 398.87,58.33 399.81,33.66 400.74,33.24 401.68,32.36 402.62,35.14 403.55,33.09 404.49,32.30 405.43,32.65 406.36,31.03 407.30,32.73 408.23,33.68 409.17,31.89 410.11,35.64 411.04,33.37 411.98,32.39 412.91,34.77 413.85,34.81 414.79,33.94 415.72,32.44 416.66,33.04 417.60,33.72 418.53,32.81 419.47,35.15 420.40,39.91 421.34,38.02 422.28,39.40 423.21,37.81 424.15,34.53 425.08,33.95 426.02,33.92 426.96,32.37 427.89,34.71 428.83,36.97 429.77,34.60 430.70,34.07 431.64,36.87 432.57,33.59 433.51,33.50 434.45,34.28 435.38,32.27 436.32,31.09 437.26,31.92 438.19,32.81 439.13,35.56 440.06,36.01 441.00,35.43 441.94,35.64 442.87,35.03 443.81,33.78 444.74,33.54 445.68,33.60 446.62,33.38 447.55,32.88 448.49,33.32 449.43,31.82 450.36,32.29 451.30,33.73 452.23,33.81 453.17,33.37 454.11,33.55 455.04,33.84 455.98,33.91 456.91,33.40 457.85,35.45 458.79,33.27 459.72,35.97 460.66,31.78 461.60,32.99 462.53,34.01 463.47,33.23 464.40,33.48 465.34,31.28 466.28,32.69 467.21,33.22 468.15,35.02 469.08,35.14 470.02,34.85 470.96,34.25 471.89,34.14 472.83,34.87 473.77,32.69 474.70,35.26 475.64,36.14 476.57,35.29 477.51,33.11 478.45,34.08 479.38,32.90 480.32,32.58 481.25,32.32 482.19,31.86 483.13,32.00 484.06,32.13 485.00,32.10 485.94,29.94 486.87,34.11 487.81,34.46 488.74,32.55 489.68,32.57 490.62,31.97 491.55,28.41 492.49,33.09 493.43,33.87 494.36,35.05 495.30,33.66 496.23,35.76 497.17,33.34 498.11,31.82 499.04,32.96 499.98,33.98 500.91,33.50 501.85,34.65 502.79,33.73 503.72,31.55 504.66,32.67 505.60,31.07 506.53,30.90 507.47,32.79 508.40,32.18 509.34,32.11 510.28,34.32 511.21,33.45 512.15,36.17 513.08,34.37 514.02,33.32 514.96,35.23 515.89,31.88 516.83,31.71 517.77,31.67 518.70,32.82 519.64,33.92 520.57,34.75 521.51,34.67 522.45,36.02 523.38,32.25 524.32,33.62 525.25,35.98 526.19,33.67 527.13,31.55 528.06,32.44 529.00,32.18 529.94,33.92 530.87,33.27 531.81,35.12 532.74,38.78 533.68,35.61 534.62,32.44 535.55,31.34 536.49,30.29 537.42,32.24 538.36,31.91 539.30,33.45 540.23,34.05 541.17,32.88 542.11,32.53 543.04,33.91 543.98,33.71 544.91,33.01 545.85,32.65 546.79,30.87 547.72,29.71 548.66,30.88 549.60,30.60 550.53,31.82 551.47,31.67 552.40,31.03 553.34,33.89 554.28,31.59 555.21,33.79 556.15,32.59 557.08,30.94 558.02,32.50 558.96,32.44 559.89,32.94 560.83,34.05 561.77,32.96 562.70,33.61 563.64,33.40 564.57,34.26 565.51,33.25 566.45,32.28 567.38,33.10 568.32,30.57 569.25,32.94 570.19,33.50 571.13,33.45 572.06,32.52 573.00,33.42 573.94,32.59 574.87,32.55 575.81,33.76 576.74,34.23 577.68,33.50 578.62,31.97 579.55,34.12 580.49,32.69 581.42,32.84 582.36,33.85 583.30,31.19 584.23,32.18 585.17,33.42 586.11,31.73 587.04,32.23 587.98,30.45 588.91,32.08 589.85,32.29 590.79,31.62 591.72,30.12 592.66,30.46 593.60,34.23 594.53,33.30 595.47,32.24 596.40,32.09 597.34,34.16 598.28,34.18 599.21,33.81 600.15,31.45 601.08,33.19 602.02,31.42 602.96,32.14 603.89,32.95 604.83,31.63 605.77,32.83 606.70,31.31 607.64,32.66 608.57,31.83 609.51,34.54 610.45,32.96 611.38,32.83 612.32,33.86 613.25,33.40 614.19,34.37 615.13,32.23 616.06,31.51 617.00,31.12 617.94,33.16 618.87,31.91 619.81,31.01 620.74,31.92 621.68,35.51 622.62,37.96 623.55,36.09 624.49,34.58 625.42,33.30 626.36,33.24 627.30,31.93 628.23,32.84 629.17,31.51 630.11,31.09 631.04,32.09 631.98,32.04 632.91,32.42 633.85,34.71 634.79,32.87 635.72,33.95 636.66,33.23 637.59,34.38 638.53,35.35 639.47,31.35 640.40,31.34 641.34,31.27 642.28,33.27 643.21,32.32 644.15,34.25 645.08,34.43 646.02,33.15 646.96,33.42 647.89,32.59 648.83,30.84 649.76,30.89 650.70,32.44 651.64,33.64 652.57,32.54 653.51,33.34 654.45,33.96 655.38,33.72 656.32,32.22 657.25,33.99 658.19,33.22 659.13,34.37 660.06,35.45 661.00,33.03 661.94,33.77 662.87,33.82 663.81,32.94 664.74,33.16 665.68,33.73 666.62,33.41 667.55,34.70 668.49,33.10 669.42,34.01 670.36,33.06 671.30,33.80 672.23,33.39 673.17,32.12 674.11,29.89 675.04,33.40 675.98,33.87 676.91,31.69 677.85,33.44" fill="none" stroke="#7E2F8E" stroke-width="1.75" stroke-linejoin="round"/>
<polyline points="397.00,124.72 397.94,91.52 398.87,65.39 399.81,64.00 400.74,64.57 401.68,65.43 402.62,64.73 403.55,62.73 404.49,62.66 405.43,64.29 406.36,63.41 407.30,63.51 408.23,65.42 409.17,61.70 410.11,64.84 411.04,64.27 411.98,64.63 412.91,64.44 413.85,61.99 414.79,63.63 415.72,62.55 416.66,62.21 417.60,65.26 418.53,65.10 419.47,64.84 420.40,65.04 421.34,63.66 422.28,65.17 423.21,63.80 424.15,61.55 425.08,63.94 426.02,63.04 426.96,62.01 427.89,63.55 428.83,65.21 429.77,66.41 430.70,66.02 431.64,67.08 432.57,65.60 433.51,63.01 434.45,63.42 435.38,62.65 436.32,62.36 437.26,64.93 438.19,64.45 439.13,61.82 440.06,63.22 441.00,65.50 441.94,63.95 442.87,61.49 443.81,64.55 444.74,64.21 445.68,63.57 446.62,67.63 447.55,66.06 448.49,64.33 449.43,62.91 450.36,63.66 451.30,65.58 452.23,65.29 453.17,63.49 454.11,65.14 455.04,64.08 455.98,64.15 456.91,64.36 457.85,63.11 458.79,62.72 459.72,63.47 460.66,63.49 461.60,65.20 462.53,64.50 463.47,64.50 464.40,62.62 465.34,63.92 466.28,63.56 467.21,63.81 468.15,62.34 469.08,64.30 470.02,63.81 470.96,64.85 471.89,64.51 472.83,61.92 473.77,61.91 474.70,63.66 475.64,64.76 476.57,62.87 477.51,59.14 478.45,61.00 479.38,62.57 480.32,65.87 481.25,67.41 482.19,64.01 483.13,64.17 484.06,64.64 485.00,61.15 485.94,60.96 486.87,61.18 487.81,65.33 488.74,66.99 489.68,65.33 490.62,65.28 491.55,64.06 492.49,63.87 493.43,64.62 494.36,65.31 495.30,64.78 496.23,63.85 497.17,64.52 498.11,62.44 499.04,63.46 499.98,61.76 500.91,63.41 501.85,63.64 502.79,63.87 503.72,64.13 504.66,64.42 505.60,66.12 506.53,65.79 507.47,62.45 508.40,63.69 509.34,62.28 510.28,64.88 511.21,66.03 512.15,64.73 513.08,65.06 514.02,63.72 514.96,62.86 515.89,61.35 516.83,63.67 517.77,61.12 518.70,63.25 519.64,63.92 520.57,62.36 521.51,63.50 522.45,63.10 523.38,65.48 524.32,63.68 525.25,65.48 526.19,63.99 527.13,64.97 528.06,63.80 529.00,63.24 529.94,63.65 530.87,60.89 531.81,64.04 532.74,62.26 533.68,62.25 534.62,62.62 535.55,63.20 536.49,65.16 537.42,62.01 538.36,63.05 539.30,62.27 540.23,62.98 541.17,65.49 542.11,63.68 543.04,64.37 543.98,65.52 544.91,62.35 545.85,62.79 546.79,62.35 547.72,63.06 548.66,62.54 549.60,64.36 550.53,64.38 551.47,64.47 552.40,64.47 553.34,63.50 554.28,64.00 555.21,63.21 556.15,64.79 557.08,64.57 558.02,64.83 558.96,65.02 559.89,64.06 560.83,65.39 561.77,64.69 562.70,63.53 563.64,63.94 564.57,64.08 565.51,64.46 566.45,63.33 567.38,62.74 568.32,62.84 569.25,64.20 570.19,65.75 571.13,63.76 572.06,61.09 573.00,62.15 573.94,63.62 574.87,62.97 575.81,61.48 576.74,59.94 577.68,61.82 578.62,63.00 579.55,63.32 580.49,63.30 581.42,64.34 582.36,64.14 583.30,64.22 584.23,64.26 585.17,64.17 586.11,62.28 587.04,64.20 587.98,62.89 588.91,62.75 589.85,62.81 590.79,64.56 591.72,64.86 592.66,64.44 593.60,63.12 594.53,64.42 595.47,63.45 596.40,64.89 597.34,63.68 598.28,64.99 599.21,66.40 600.15,65.19 601.08,63.04 602.02,62.10 602.96,61.12 603.89,63.22 604.83,63.39 605.77,62.73 606.70,63.97 607.64,62.48 608.57,61.72 609.51,62.24 610.45,64.02 611.38,63.01 612.32,66.76 613.25,64.04 614.19,62.63 615.13,63.85 616.06,64.81 617.00,63.23 617.94,64.02 618.87,63.84 619.81,64.97 620.74,62.71 621.68,65.79 622.62,67.02 623.55,67.18 624.49,65.53 625.42,62.23 626.36,63.50 627.30,62.46 628.23,63.76 629.17,62.17 630.11,63.06 631.04,62.50 631.98,61.93 632.91,64.19 633.85,66.59 634.79,64.47 635.72,64.03 636.66,63.88 637.59,64.63 638.53,65.62 639.47,63.14 640.40,64.03 641.34,61.91 642.28,60.46 643.21,63.77 644.15,65.03 645.08,63.38 646.02,61.66 646.96,64.31 647.89,63.00 648.83,60.53 649.76,62.97 650.70,65.72 651.64,64.30 652.57,64.94 653.51,63.26 654.45,62.02 655.38,63.17 656.32,63.76 657.25,62.52 658.19,61.36 659.13,64.30 660.06,63.68 661.00,63.22 661.94,63.65 662.87,62.75 663.81,62.74 664.74,64.18 665.68,63.77 666.62,63.20 667.55,63.75 668.49,62.93 669.42,61.28 670.36,62.79 671.30,63.84 672.23,60.90 673.17,64.38 674.11,63.15 675.04,65.37 675.98,62.63 676.91,62.57 677.85,61.23" fill="none" stroke="#77AC30" stroke-width="1.75" stroke-linejoin="round"/>
<polyline points="397.00,124.72 397.94,85.99 398.87,58.33 399.81,42.39 400.74,40.78 401.68,40.24 402.62,38.60 403.55,38.91 404.49,39.15 405.43,40.24 406.36,40.75 407.30,37.81 408.23,39.39 409.17,40.55 410.11,39.59 411.04,38.86 411.98,39.89 412.91,40.74 413.85,38.19 414.79,37.56 415.72,37.37 416.66,37.13 417.60,38.41 418.53,37.11 419.47,36.47 420.40,40.03 421.34,39.68 422.28,40.47 423.21,36.02 424.15,38.22 425.08,36.29 426.02,38.57 426.96,37.95 427.89,41.33 428.83,42.54 429.77,42.17 430.70,39.34 431.64,38.76 432.57,39.57 433.51,39.97 434.45,41.51 435.38,39.34 436.32,40.21 437.26,43.75 438.19,44.58 439.13,44.84 440.06,43.88 441.00,42.18 441.94,41.48 442.87,42.03 443.81,42.14 444.74,41.79 445.68,40.10 446.62,42.62 447.55,38.36 448.49,38.96 449.43,39.58 450.36,40.66 451.30,39.57 452.23,38.68 453.17,36.98 454.11,37.38 455.04,39.85 455.98,40.21 456.91,41.28 457.85,41.31 458.79,40.45 459.72,39.20 460.66,35.16 461.60,35.89 462.53,35.23 463.47,39.70 464.40,40.24 465.34,40.01 466.28,38.22 467.21,39.13 468.15,38.99 469.08,40.96 470.02,41.83 470.96,38.83 471.89,41.13 472.83,41.78 473.77,40.96 474.70,39.90 475.64,38.53 476.57,39.57 477.51,40.84 478.45,39.94 479.38,39.95 480.32,39.40 481.25,39.44 482.19,42.96 483.13,42.89 484.06,41.98 485.00,41.59 485.94,42.72 486.87,38.51 487.81,39.63 488.74,39.41 489.68,41.59 490.62,40.44 491.55,38.13 492.49,40.27 493.43,44.11 494.36,39.65 495.30,40.04 496.23,37.75 497.17,37.65 498.11,39.40 499.04,39.76 499.98,40.65 500.91,39.14 501.85,41.10 502.79,40.31 503.72,41.14 504.66,42.02 505.60,38.69 506.53,37.01 507.47,38.74 508.40,39.66 509.34,40.07 510.28,38.85 511.21,39.77 512.15,41.34 513.08,42.52 514.02,39.94 514.96,37.83 515.89,39.43 516.83,37.76 517.77,39.87 518.70,40.95 519.64,39.11 520.57,40.14 521.51,39.82 522.45,38.90 523.38,40.50 524.32,46.54 525.25,40.30 526.19,42.67 527.13,41.72 528.06,39.32 529.00,39.82 529.94,39.41 530.87,40.61 531.81,40.17 532.74,39.92 533.68,42.01 534.62,40.68 535.55,39.70 536.49,39.17 537.42,39.29 538.36,39.74 539.30,38.97 540.23,42.44 541.17,39.19 542.11,40.53 543.04,40.31 543.98,41.92 544.91,38.67 545.85,37.82 546.79,38.02 547.72,37.76 548.66,41.07 549.60,38.09 550.53,36.84 551.47,35.96 552.40,35.45 553.34,38.39 554.28,36.30 555.21,41.47 556.15,39.10 557.08,38.35 558.02,40.03 558.96,38.66 559.89,41.91 560.83,39.30 561.77,40.02 562.70,41.81 563.64,40.76 564.57,39.35 565.51,39.45 566.45,37.72 567.38,40.07 568.32,39.90 569.25,40.87 570.19,41.94 571.13,37.46 572.06,39.92 573.00,39.68 573.94,39.70 574.87,39.65 575.81,37.75 576.74,39.20 577.68,39.92 578.62,39.87 579.55,38.74 580.49,40.11 581.42,39.28 582.36,37.62 583.30,38.83 584.23,41.20 585.17,40.18 586.11,40.40 587.04,40.59 587.98,39.27 588.91,44.25 589.85,39.15 590.79,38.78 591.72,40.46 592.66,38.77 593.60,37.76 594.53,41.92 595.47,39.36 596.40,38.58 597.34,37.57 598.28,40.97 599.21,41.57 600.15,42.35 601.08,41.45 602.02,40.13 602.96,39.60 603.89,38.48 604.83,38.62 605.77,38.96 606.70,40.08 607.64,41.95 608.57,39.86 609.51,38.98 610.45,38.00 611.38,38.51 612.32,41.32 613.25,38.80 614.19,37.83 615.13,38.17 616.06,36.69 617.00,37.73 617.94,40.70 618.87,39.32 619.81,39.30 620.74,37.11 621.68,40.97 622.62,43.43 623.55,41.80 624.49,40.63 625.42,42.19 626.36,39.13 627.30,40.93 628.23,39.47 629.17,39.44 630.11,37.68 631.04,40.31 631.98,38.50 632.91,38.62 633.85,37.34 634.79,38.26 635.72,39.71 636.66,40.58 637.59,41.64 638.53,42.42 639.47,36.25 640.40,32.72 641.34,36.31 642.28,37.93 643.21,39.49 644.15,37.16 645.08,36.36 646.02,36.85 646.96,38.33 647.89,37.69 648.83,39.91 649.76,37.42 650.70,35.96 651.64,38.13 652.57,37.45 653.51,37.73 654.45,39.89 655.38,35.44 656.32,35.67 657.25,39.18 658.19,37.96 659.13,38.78 660.06,44.49 661.00,36.31 661.94,37.82 662.87,40.12 663.81,38.90 664.74,36.03 665.68,37.87 666.62,39.76 667.55,39.24 668.49,36.55 669.42,38.89 670.36,37.13 671.30,40.90 672.23,38.39 673.17,38.16 674.11,37.43 675.04,36.75 675.98,37.32 676.91,38.07 677.85,40.24" fill="none" stroke="#4DBEEE" stroke-width="1.75" stroke-linejoin="round"/>
<polyline points="397.00,167.87 397.94,102.59 398.87,48.42 399.81,45.44 400.74,48.49 401.68,46.81 402.62,47.14 403.55,43.89 404.49,47.21 405.43,46.40 406.36,45.09 407.30,43.48 408.23,45.49 409.17,46.60 410.11,47.52 411.04,45.87 411.98,46.20 412.91,49.50 413.85,47.61 414.79,45.11 415.72,45.53 416.66,44.26 417.60,46.93 418.53,49.70 419.47,44.65 420.40,46.03 421.34,43.84 422.28,47.68 423.21,47.22 424.15,44.71 425.08,46.63 426.02,46.28 426.96,45.43 427.89,46.17 428.83,47.18 429.77,48.53 430.70,46.50 431.64,47.59 432.57,47.08 433.51,46.28 434.45,44.83 435.38,46.10 436.32,47.73 437.26,49.74 438.19,48.42 439.13,46.39 440.06,45.62 441.00,45.12 441.94,44.67 442.87,46.07 443.81,45.13 444.74,44.03 445.68,43.74 446.62,46.50 447.55,50.69 448.49,47.24 449.43,45.99 450.36,47.59 451.30,44.54 452.23,45.80 453.17,45.88 454.11,44.34 455.04,44.05 455.98,47.52 456.91,46.96 457.85,47.95 458.79,47.02 459.72,44.01 460.66,44.43 461.60,44.60 462.53,45.21 463.47,44.50 464.40,45.69 465.34,44.68 466.28,43.36 467.21,44.14 468.15,43.26 469.08,43.66 470.02,45.45 470.96,39.76 471.89,40.37 472.83,40.47 473.77,44.16 474.70,42.98 475.64,43.36 476.57,45.17 477.51,42.23 478.45,45.76 479.38,44.54 480.32,45.47 481.25,46.25 482.19,43.82 483.13,45.14 484.06,47.11 485.00,48.49 485.94,46.32 486.87,44.67 487.81,44.89 488.74,44.57 489.68,43.65 490.62,45.04 491.55,44.78 492.49,44.44 493.43,43.37 494.36,43.75 495.30,43.12 496.23,43.76 497.17,43.76 498.11,44.78 499.04,42.83 499.98,44.55 500.91,43.43 501.85,40.65 502.79,42.72 503.72,43.27 504.66,44.92 505.60,44.65 506.53,43.83 507.47,45.38 508.40,44.30 509.34,42.78 510.28,42.96 511.21,43.62 512.15,44.58 513.08,43.29 514.02,42.86 514.96,42.38 515.89,40.86 516.83,42.96 517.77,44.07 518.70,44.56 519.64,49.73 520.57,43.94 521.51,46.83 522.45,39.36 523.38,43.33 524.32,43.19 525.25,43.18 526.19,45.13 527.13,44.12 528.06,41.93 529.00,41.87 529.94,43.95 530.87,44.98 531.81,45.61 532.74,43.88 533.68,42.88 534.62,43.30 535.55,44.56 536.49,42.28 537.42,42.44 538.36,41.51 539.30,42.91 540.23,43.47 541.17,41.28 542.11,43.64 543.04,44.34 543.98,44.66 544.91,45.20 545.85,45.22 546.79,46.63 547.72,45.09 548.66,44.90 549.60,44.23 550.53,42.88 551.47,44.34 552.40,42.33 553.34,43.48 554.28,42.81 555.21,42.43 556.15,43.29 557.08,44.55 558.02,44.11 558.96,42.71 559.89,42.62 560.83,45.16 561.77,45.79 562.70,45.43 563.64,43.03 564.57,43.69 565.51,42.97 566.45,44.76 567.38,45.17 568.32,42.41 569.25,43.51 570.19,41.21 571.13,44.58 572.06,43.64 573.00,42.90 573.94,43.01 574.87,45.44 575.81,42.60 576.74,44.44 577.68,42.93 578.62,44.13 579.55,42.84 580.49,42.84 581.42,43.63 582.36,43.69 583.30,41.68 584.23,44.92 585.17,43.23 586.11,41.51 587.04,46.16 587.98,46.52 588.91,44.44 589.85,45.19 590.79,45.61 591.72,45.79 592.66,43.75 593.60,43.93 594.53,43.96 595.47,45.33 596.40,44.58 597.34,45.06 598.28,43.73 599.21,45.08 600.15,42.71 601.08,45.49 602.02,45.03 602.96,43.12 603.89,46.66 604.83,44.00 605.77,45.46 606.70,42.26 607.64,42.66 608.57,44.72 609.51,43.71 610.45,42.31 611.38,43.06 612.32,42.81 613.25,43.29 614.19,44.35 615.13,43.42 616.06,44.66 617.00,44.79 617.94,43.19 618.87,44.50 619.81,44.70 620.74,43.99 621.68,46.10 622.62,48.43 623.55,49.56 624.49,44.75 625.42,46.34 626.36,43.66 627.30,41.82 628.23,43.95 629.17,45.22 630.11,43.26 631.04,45.48 631.98,45.45 632.91,44.51 633.85,43.64 634.79,44.65 635.72,46.82 636.66,44.16 637.59,45.33 638.53,45.60 639.47,44.47 640.40,44.54 641.34,43.82 642.28,44.58 643.21,43.97 644.15,41.27 645.08,43.45 646.02,42.42 646.96,41.85 647.89,39.94 648.83,43.53 649.76,43.12 650.70,42.08 651.64,43.19 652.57,45.28 653.51,43.49 654.45,43.94 655.38,45.46 656.32,46.94 657.25,45.51 658.19,45.75 659.13,44.59 660.06,44.42 661.00,43.64 661.94,43.85 662.87,47.45 663.81,45.17 664.74,43.38 665.68,44.62 666.62,45.58 667.55,47.83 668.49,45.97 669.42,45.86 670.36,44.47 671.30,43.51 672.23,45.19 673.17,44.31 674.11,43.46 675.04,43.10 675.98,42.95 676.91,43.13 677.85,42.81" fill="none" stroke="#A2142F" stroke-width="1.75" stroke-linejoin="round"/>
<text transform="translate(537.42,249.8) scale(0.955,1)" text-anchor="middle" class="lb">Time (s)</text>
<text transform="translate(374.30,113.65) rotate(-90) scale(0.955,1)" text-anchor="middle" class="lb">C/N<tspan dy="4.1" font-size="7.2">0</tspan><tspan dy="-4.1"> (dB-Hz)</tspan></text>
<text transform="translate(533.00,269.6) scale(0.97,1)" text-anchor="middle" class="cap">(b)</text>
<rect x="404.1" y="141.1" width="56.19999999999999" height="76.20000000000002" fill="#fff" stroke="#262626" stroke-width="0.7"/>
<line x1="406.20" y1="147.35" x2="432.30" y2="147.35" stroke="#0072BD" stroke-width="1.4"/>
<text transform="translate(435.10,150.65) scale(0.895,1)" class="lg">PRN 1</text>
<line x1="406.20" y1="158.05" x2="432.30" y2="158.05" stroke="#D95319" stroke-width="1.4"/>
<text transform="translate(435.10,161.35) scale(0.895,1)" class="lg">PRN 2</text>
<line x1="406.20" y1="168.75" x2="432.30" y2="168.75" stroke="#EDB120" stroke-width="1.4"/>
<text transform="translate(435.10,172.05) scale(0.895,1)" class="lg">PRN 3</text>
<line x1="406.20" y1="179.45" x2="432.30" y2="179.45" stroke="#7E2F8E" stroke-width="1.4"/>
<text transform="translate(435.10,182.75) scale(0.895,1)" class="lg">PRN 4</text>
<line x1="406.20" y1="190.15" x2="432.30" y2="190.15" stroke="#77AC30" stroke-width="1.4"/>
<text transform="translate(435.10,193.45) scale(0.895,1)" class="lg">PRN 5</text>
<line x1="406.20" y1="200.85" x2="432.30" y2="200.85" stroke="#4DBEEE" stroke-width="1.4"/>
<text transform="translate(435.10,204.15) scale(0.895,1)" class="lg">PRN 6</text>
<line x1="406.20" y1="211.55" x2="432.30" y2="211.55" stroke="#A2142F" stroke-width="1.4"/>
<text transform="translate(435.10,214.85) scale(0.895,1)" class="lg">PRN 8</text>
</g>
</svg></div>
</body></html>
